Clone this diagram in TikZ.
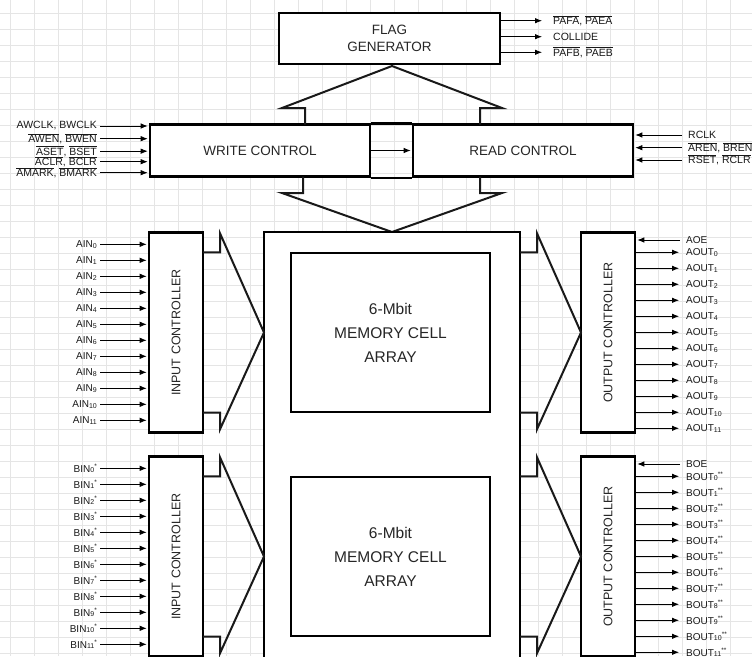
\documentclass[tikz,border=0pt]{standalone}
\usepackage{fontspec}
\setmainfont{Liberation Sans}
\usetikzlibrary{arrows.meta}
\newcommand{\pinsub}[1]{\raisebox{-0.6pt}{\fontsize{7}{7}\selectfont #1}}
\newcommand{\pinstar}[1]{\raisebox{4pt}{\fontsize{6.5}{6}\selectfont #1}}
\newcommand{\ovl}[1]{$\overline{\mbox{#1}}$}

\begin{document}
\begin{tikzpicture}[x=1pt, y=-1pt,
            rejilla/.style={draw=black!10, line width=0.9pt},
            bloque/.style={draw=black, fill=white, line width=2.6pt, inner sep=0pt, align=center,
                text=black!85, font=\fontsize{13.5}{17}\selectfont},
            celda/.style={draw=black, fill=white, line width=1.4pt, minimum width=199pt, minimum height=159pt,
                align=center, text=black!85, font=\fontsize{15.5}{24}\selectfont},
            control/.style={bloque, minimum width=54pt, minimum height=200pt},
            rotulo/.style={rotate=90, text=black!85, font=\fontsize{12.5}{14}\selectfont},
            flecha/.style={draw=black!90, line width=2pt, line join=miter},
            senal/.style={line width=0.8pt, shorten >=1pt, -{Latex[length=7pt,width=5.5pt]}},
            pinL/.style={anchor=east, inner xsep=3pt, inner ysep=1pt, text=black!90, font=\fontsize{10}{10}\selectfont},
            pinR/.style={anchor=west, inner xsep=6pt, inner ysep=1pt, text=black!90, font=\fontsize{10}{10}\selectfont},
            ctlL/.style={pinL, font=\fontsize{10.5}{11}\selectfont},
            ctlR/.style={pinR, font=\fontsize{10.5}{11}\selectfont},
            flagR/.style={ctlR, inner xsep=10pt}
        ]
        \useasboundingbox[fill=white] (0,0) rectangle (752,656);

        % --- REJILLA ---
        \foreach \gx in {10.7,34.7,...,752} \draw[rejilla] (\gx,0) -- (\gx,656);
        \foreach \gy in {13.3,29.3,...,656} \draw[rejilla] (0,\gy) -- (752,\gy);

        % --- FLAG GENERATOR ---
        \node[bloque, minimum width=221pt, minimum height=51pt] (flag) at (389.5, 38.5) {FLAG\\GENERATOR};
        \node[flagR] (pafa) at (543, 20.7) {\ovl{PAFA}, \ovl{PAEA}};
        \node[flagR] (coll) at (543, 36.7) {COLLIDE};
        \node[flagR] (pafb) at (543, 52.3) {\ovl{PAFB}, \ovl{PAEB}};
        \draw[senal] (flag.east |- pafa.west) -- (pafa.west);
        \draw[senal] (flag.east |- coll.west) -- (coll.west);
        \draw[senal] (flag.east |- pafb.west) -- (pafb.west);

        % --- WRITE / READ CONTROL ---
        \node[bloque, minimum width=220pt, minimum height=52pt] (write) at (260, 150.5) {WRITE CONTROL};
        \node[bloque, minimum width=220pt, minimum height=52pt] (read) at (523, 150.5) {READ CONTROL};
        \draw[line width=2.6pt] (write.north east) -- (read.north west);
        \draw[line width=2.6pt] (write.south east) -- (read.south west);
        \draw[senal] (write.east) -- (read.west);

        \node[ctlL] (wclk) at (100, 126) {AWCLK, BWCLK};
        \node[ctlL] (wen) at (100, 138.7) {\ovl{AWEN}, \ovl{BWEN}};
        \node[ctlL] (wset) at (100, 151.2) {\ovl{ASET}, \ovl{BSET}};
        \node[ctlL] (wclr) at (100, 161.7) {\ovl{ACLR}, \ovl{BCLR}};
        \node[ctlL] (wmark) at (100, 172.7) {\ovl{AMARK}, \ovl{BMARK}};
        \foreach \n in {wclk, wen, wset, wclr, wmark}
            \draw[senal] (\n.east) -- (write.west |- \n.east);

        \node[ctlR] (rclk) at (682, 135) {RCLK};
        \node[ctlR] (ren) at (682, 147.7) {\ovl{AREN}, \ovl{BREN}};
        \node[ctlR] (rset) at (682, 160) {\ovl{RSET}, \ovl{RCLR}};
        \foreach \n in {rclk, ren, rset}
            \draw[senal] (\n.west) -- (read.east |- \n.west);

        % flechas huecas arriba y abajo
        \draw[flecha] (305,124.5) -- (305,108) -- (282,108) -- (392,66) -- (502,108) -- (480,108) -- (480,124.5);
        \draw[flecha] (303,176.5) -- (303,193) -- (282,193) -- (392,232) -- (502,193) -- (480,193) -- (480,176.5);

        % --- MEMORIA ---
        \node[bloque, minimum width=256pt, minimum height=470pt] (mem) at (392, 467) {};
        \node[celda] (celA) at (390.5, 332.5) {6-Mbit\\MEMORY CELL\\ARRAY};
        \node[celda] (celB) at (390.5, 556.5) {6-Mbit\\MEMORY CELL\\ARRAY};

        % --- PUERTO A ---
        \node[control] (inA) at (176, 332.7) {};
        \node[rotulo] (inAtxt) at (inA.center) {INPUT CONTROLLER};
        \node[control] (outA) at (608, 332.7) {};
        \node[rotulo] (outAtxt) at (outA.center) {OUTPUT CONTROLLER};

        \foreach \i in {0,...,11} {
            \node[pinL] (ain\i) at (100, 244.3+16*\i) {AIN\pinsub{\i}};
            \draw[senal] (ain\i.east) -- (inA.west |- ain\i.east);
            \node[pinR] (aout\i) at (680, 252.3+16*\i) {AOUT\pinsub{\i}};
            \draw[senal] (outA.east |- aout\i.west) -- (aout\i.west);
        }
        \node[pinR] (aoe) at (680, 240) {AOE};
        \draw[senal] (aoe.west) -- (outA.east |- aoe.west);

        % --- PUERTO B ---
        \node[control] (inB) at (176, 556.7) {};
        \node[rotulo] (inBtxt) at (inB.center) {INPUT CONTROLLER};
        \node[control] (outB) at (608, 556.7) {};
        \node[rotulo] (outBtxt) at (outB.center) {OUTPUT CONTROLLER};

        \foreach \i in {0,...,11} {
            \node[pinL] (bin\i) at (100, 468.3+16*\i) {BIN\pinsub{\i}\pinstar{*}};
            \draw[senal] (bin\i.east) -- (inB.west |- bin\i.east);
            \node[pinR] (bout\i) at (680, 476.3+16*\i) {BOUT\pinsub{\i}\pinstar{**}};
            \draw[senal] (outB.east |- bout\i.west) -- (bout\i.west);
        }
        \node[pinR] (boe) at (680, 464) {BOE};
        \draw[senal] (boe.west) -- (outB.east |- boe.west);

        % flechas huecas entrada / salida
        \foreach \dy in {0,224} {
            \draw[flecha] (203,252.3+\dy) -- (220,252.3+\dy) -- (220,233.3+\dy) -- (264,332.5+\dy)
                -- (220,429.3+\dy) -- (220,412.7+\dy) -- (203,412.7+\dy);
            \draw[flecha] (520,252.3+\dy) -- (537,252.3+\dy) -- (537,233.3+\dy) -- (581,332.5+\dy)
                -- (537,429.3+\dy) -- (537,412.7+\dy) -- (520,412.7+\dy);
        }
    \end{tikzpicture}
\end{document}
